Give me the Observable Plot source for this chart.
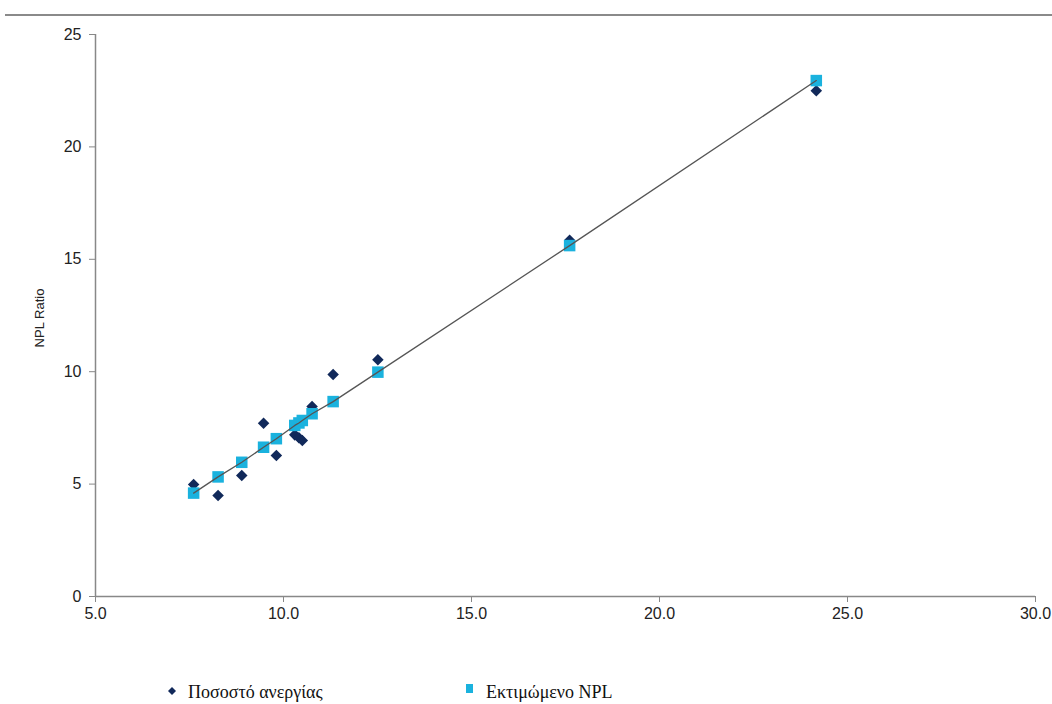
<!DOCTYPE html>
<html>
<head>
<meta charset="utf-8">
<script src="https://cdn.jsdelivr.net/npm/d3@7"></script>
<script src="https://cdn.jsdelivr.net/npm/@observablehq/plot@0.6"></script>
<style>
  html, body { margin: 0; padding: 0; background: #fff; }
  #wrap { position: relative; width: 1052px; height: 704px; overflow: hidden; }
  #topline { position: absolute; left: 5px; top: 14px; width: 1047px; height: 2px; background: #8a8a8a; }
  #chart { position: absolute; left: 0; top: 0; }
  #legend { position: absolute; left: 0; top: 670px; width: 1052px; height: 34px; color: #111; }
  .item { position: absolute; top: 12px; white-space: nowrap; }
  .item span { font-family: "Liberation Serif", "DejaVu Serif", serif; font-size: 18px; }
  .sym { display: inline-block; vertical-align: middle; }
</style>
</head>
<body>
<div id="wrap">
  <div id="chart"></div>
  <div id="topline"></div>
  <div id="legend"></div>
</div>
<script>
// Unemployment rate (x) for each observation
const unemployment = [7.61, 8.26, 8.89, 9.47, 9.81, 10.30, 10.41, 10.50, 10.76, 11.32, 12.51, 17.61, 24.17];
// Actual NPL ratio (diamonds, "Ποσοστό ανεργίας")
const nplActual = [4.98, 4.49, 5.38, 7.71, 6.27, 7.19, 7.06, 6.94, 8.45, 9.88, 10.53, 15.85, 22.50];
// Estimated NPL ratio (squares, "Εκτιμώμενο NPL")
const nplEstimated = [4.60, 5.32, 5.97, 6.64, 7.02, 7.61, 7.72, 7.83, 8.13, 8.67, 9.98, 15.61, 22.95];

const xTicks = [5, 10, 15, 20, 25, 30];
const yTicks = [0, 5, 10, 15, 20, 25];
const seriesNames = ["Ποσοστό ανεργίας", "Εκτιμώμενο NPL"];
const yLabel = "NPL Ratio";

const navy = "#11295a";
const cyan = "#1ab2de";

const actual = unemployment.map((x, i) => ({x, y: nplActual[i]}));
const estimated = unemployment.map((x, i) => ({x, y: nplEstimated[i]})).sort((a, b) => a.x - b.x);

const plot = Plot.plot({
  width: 1052,
  height: 670,
  marginLeft: 95,
  marginRight: 17,
  marginTop: 34,
  marginBottom: 74,
  style: {fontFamily: "'Liberation Sans Narrow', 'Liberation Sans', Arial, sans-serif", fontSize: "16px", color: "#222", background: "transparent"},
  x: {domain: [5, 30]},
  y: {domain: [0, 25]},
  marks: [
    Plot.axisX({ticks: xTicks, tickFormat: d => d.toFixed(1), tickSize: 6, tickPadding: 5, stroke: "#888", fill: "#222", label: null, fontSize: 16}),
    Plot.axisY({ticks: yTicks, tickFormat: d => String(d), tickSize: 6, tickPadding: 8, stroke: "#888", fill: "#222", label: null, fontSize: 16}),
    Plot.ruleY([0], {stroke: "#888", strokeWidth: 1.5}),
    Plot.ruleX([5], {stroke: "#888", strokeWidth: 1.5}),
    Plot.dot(actual, {x: "x", y: "y", symbol: "diamond2", r: 5.2, fill: navy, stroke: "none"}),
    Plot.dot(estimated, {x: "x", y: "y", symbol: "square", r: 6.5, fill: cyan, stroke: "none"}),
    Plot.line(estimated, {x: "x", y: "y", stroke: "#555", strokeWidth: 1.3})
  ]
});

// y-axis title
const svg = d3.select(plot);
svg.append("text")
  .attr("transform", "translate(44,318) rotate(-90)")
  .attr("text-anchor", "middle")
  .attr("font-family", "'Liberation Sans Narrow', 'Liberation Sans', Arial, sans-serif")
  .attr("font-size", 13)
  .attr("fill", "#222")
  .text(yLabel);

document.getElementById("chart").appendChild(plot);

// legend
const legend = d3.select("#legend");
const items = [
  {name: seriesNames[0], left: 166, kind: "diamond", color: navy},
  {name: seriesNames[1], left: 464, kind: "square", color: cyan}
];
items.forEach(it => {
  const div = legend.append("div").attr("class", "item").style("left", it.left + "px");
  const s = div.append("svg").attr("class", "sym").attr("width", 22).attr("height", 14)
    .style("margin-top", "-6px");
  if (it.kind === "diamond") {
    s.append("path").attr("d", "M6,3 L10,7 L6,11 L2,7 Z").attr("fill", it.color);
  } else {
    s.append("rect").attr("x", 2).attr("y", 0).attr("width", 7).attr("height", 9).attr("fill", it.color);
  }
  div.append("span").text(it.name);
});
</script>
</body>
</html>
